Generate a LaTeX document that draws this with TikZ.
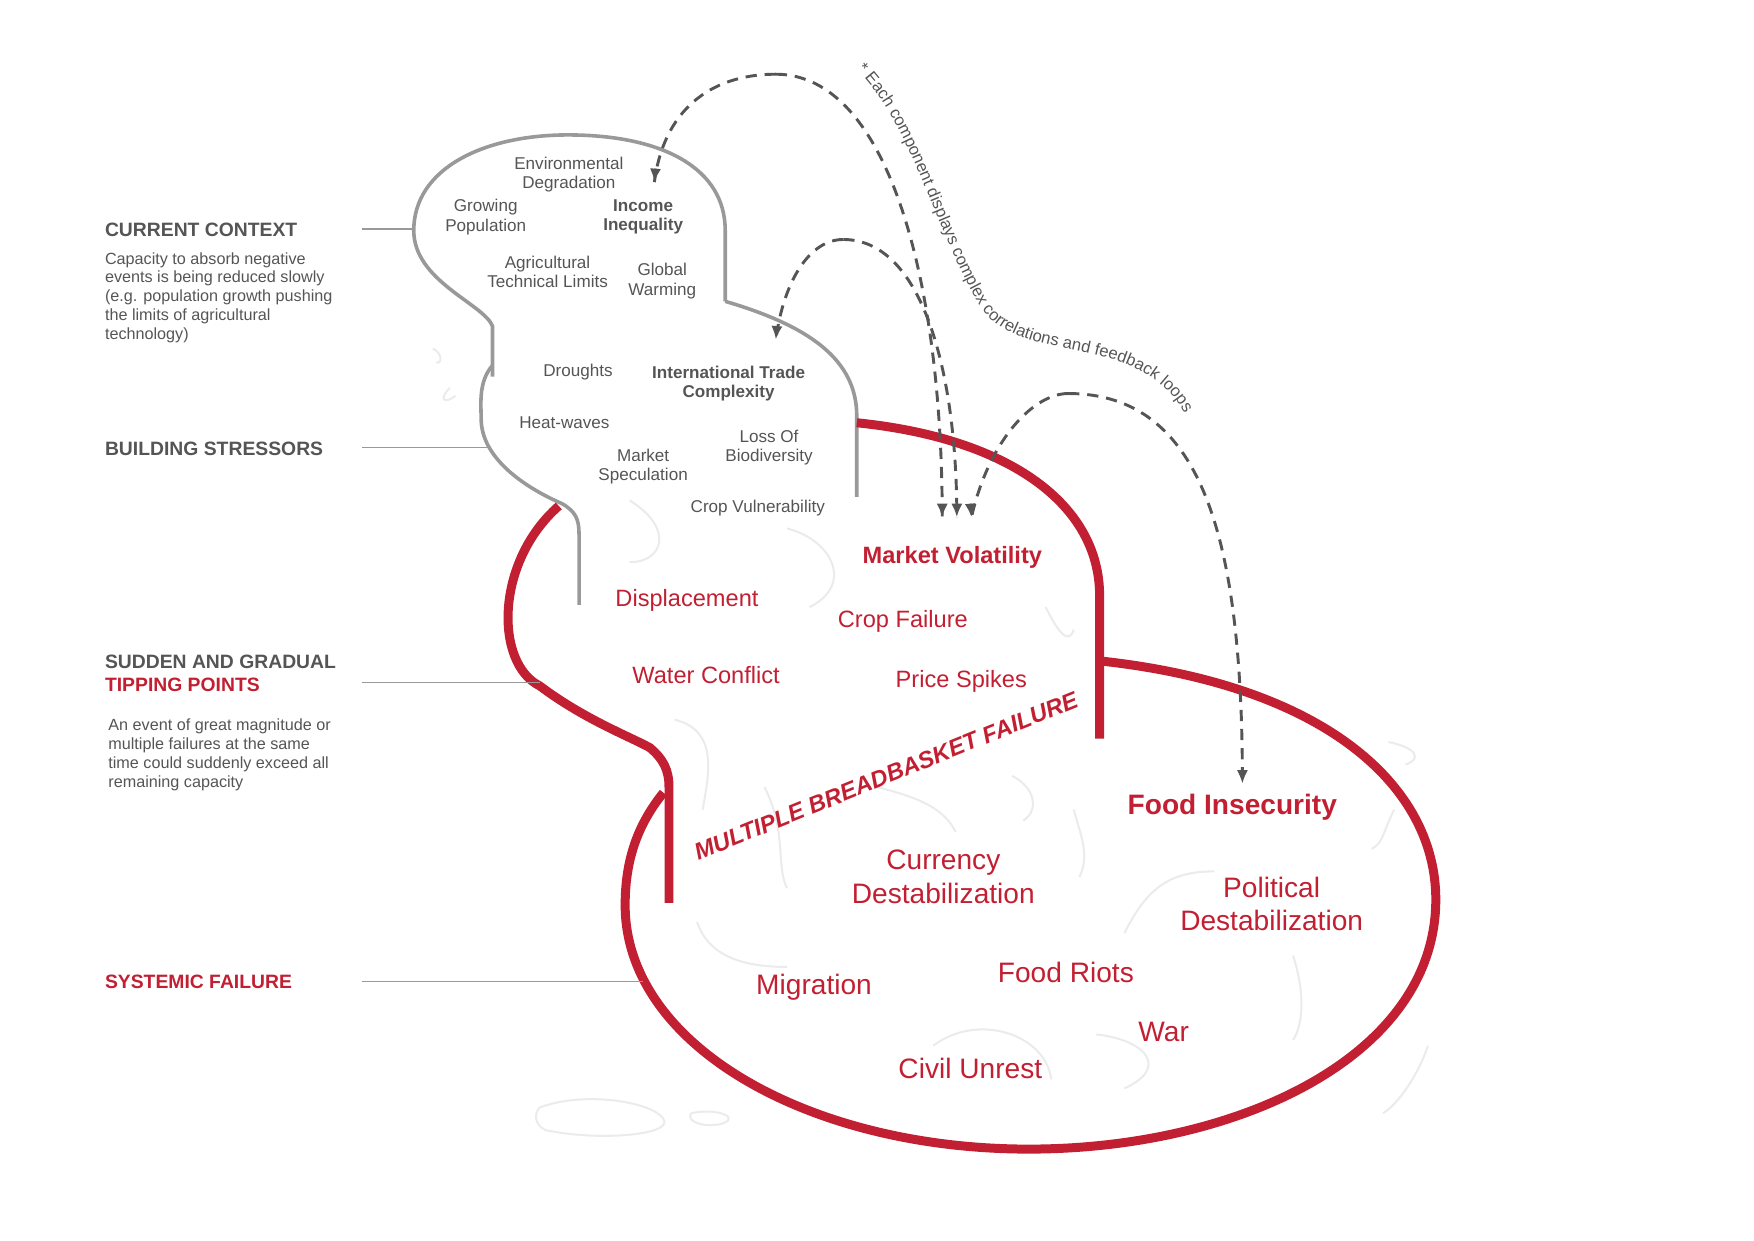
\documentclass[tikz,border=0pt]{standalone}
\usepackage{fontspec}
\setmainfont{Liberation Sans}
\usetikzlibrary{arrows.meta,decorations.text}
\definecolor{fr}{HTML}{C22032}
\definecolor{tg}{HTML}{555555}
\definecolor{lg}{HTML}{999999}
\definecolor{sk}{HTML}{EBEBEB}
\begin{document}
\begin{tikzpicture}[x=0.5pt,y=-0.5pt,
  gl/.style={lg,line width=1.6pt},
  rl/.style={fr,line width=4pt},
  ll/.style={lg,line width=0.8pt},
  sq/.style={sk,line width=0.9pt},
  dsh/.style={tg,line width=1.3pt,dash pattern=on 5pt off 3.5pt},
  tip/.style={-{Latex[length=6pt,width=5pt]}},
  st/.style={tg,font=\fontsize{7.6}{8.6}\selectfont,align=center},
  sb/.style={st,font=\fontsize{7.6}{8.6}\selectfont\bfseries},
  rt/.style={fr,font=\fontsize{10.5}{12}\selectfont,align=center},
  rb/.style={fr,font=\fontsize{10.5}{12}\selectfont\bfseries},
  big/.style={fr,font=\fontsize{12.5}{15}\selectfont,align=center},
  hd/.style={tg,font=\fontsize{8.6}{10}\selectfont\bfseries,anchor=west,align=left,inner sep=0pt},
  ds/.style={tg,font=\fontsize{7.2}{8.4}\selectfont,anchor=north west,align=left,inner sep=0pt}]
\useasboundingbox (0,0) rectangle (1560,1103);
% sketch squiggles
\draw[sq] (385,310) .. controls (395,315) and (392,325) .. (388,322);
\draw[sq] (400,345) .. controls (390,355) and (395,360) .. (405,352);
\draw[sq] (560,445) .. controls (600,470) and (590,500) .. (560,500);
\draw[sq] (700,470) .. controls (740,480) and (760,520) .. (720,540);
\draw[sq] (930,540) .. controls (940,560) and (950,575) .. (955,560);
\draw[sq] (600,640) .. controls (640,650) and (630,690) .. (625,720);
\draw[sq] (680,700) .. controls (700,740) and (690,770) .. (700,790);
\draw[sq] (620,820) .. controls (630,850) and (660,860) .. (700,860);
\draw[sq] (830,930) .. controls (870,900) and (930,920) .. (935,960);
\draw[sq] (975,920) .. controls (1020,925) and (1040,950) .. (1000,968);
\draw[sq] (1000,830) .. controls (1020,790) and (1040,775) .. (1080,775);
\draw[sq] (1150,850) .. controls (1160,880) and (1160,910) .. (1150,925);
\draw[sq] (1240,720) .. controls (1230,740) and (1230,750) .. (1220,755);
\draw[sq] (1235,660) .. controls (1260,665) and (1265,675) .. (1250,680);
\draw[sq] (1270,930) .. controls (1260,960) and (1240,985) .. (1230,990);
\draw[sq] (480,985) .. controls (520,970) and (580,980) .. (590,995) .. controls (600,1010) and (530,1015) .. (485,1005) .. controls (475,1000) and (475,990) .. (480,985);
\draw[sq] (615,990) .. controls (640,985) and (660,995) .. (640,1000) .. controls (620,1003) and (610,995) .. (615,990);
\draw[sq] (780,700) .. controls (820,710) and (840,720) .. (850,740);
\draw[sq] (900,690) .. controls (920,700) and (925,720) .. (910,730);
\draw[sq] (955,720) .. controls (960,740) and (970,760) .. (960,780);
% top grey blob
\draw[gl] (438,335) -- (438,290) .. controls (430,270) and (368,250) .. (368,205) .. controls (368,150) and (430,120) .. (505,120) .. controls (590,120) and (645,150) .. (645,205) -- (645,268);
% second grey blob
\draw[gl] (645,268) .. controls (720,290) and (762,320) .. (762,370) -- (762,442);
\draw[gl] (438,325) .. controls (425,340) and (428,360) .. (428,375) .. controls (430,410) and (470,435) .. (500,448) .. controls (512,455) and (515,462) .. (515,475) -- (515,538);
% red blob
\draw[rl] (497,450) .. controls (440,500) and (440,590) .. (480,610) .. controls (520,640) and (560,655) .. (578,665) .. controls (590,675) and (595,685) .. (595,700) -- (595,803);
\draw[rl] (762,376) .. controls (900,390) and (978,450) .. (978,530) -- (978,657);
% red ellipse
\draw[rl] (980,588) .. controls (1180,610) and (1277,700) .. (1277,800) .. controls (1277,940) and (1100,1022) .. (915,1022) .. controls (720,1022) and (556,930) .. (556,805) .. controls (556,760) and (570,730) .. (590,705);
% left labels and leaders
\node[hd] (cc) at (93,204) {CURRENT CONTEXT};
\node[ds] (ccd) at (93,224) {Capacity to absorb negative\\events is being reduced slowly\\(e.g. population growth pushing\\the limits of agricultural\\technology)};
\node[hd] (bs) at (93,399) {BUILDING STRESSORS};
\node[hd] (tp) at (93,599) {SUDDEN AND GRADUAL\\\textcolor{fr}{TIPPING POINTS}};
\node[ds] (tpd) at (96,639) {An event of great magnitude or\\multiple failures at the same\\time could suddenly exceed all\\remaining capacity};
\node[hd,fr] (sf) at (93,873) {SYSTEMIC FAILURE};
\coordinate (c1) at (368,204); \coordinate (c2) at (434,398);
\coordinate (c3) at (480,607); \coordinate (c4) at (572,873);
\draw[ll] (322,204) -- (c1);
\draw[ll] (322,398) -- (c2);
\draw[ll] (322,607) -- (c3);
\draw[ll] (322,873) -- (c4);
% grey texts
\node[st] (ed) at (506,155) {Environmental\\Degradation};
\node[st] (gp) at (432,193) {Growing\\Population};
\node[sb] (ii) at (572,193) {Income\\Inequality};
\node[st] (at) at (487,242) {Agricultural\\Technical Limits};
\node[st] (gw) at (589,250) {Global\\Warming};
\node[st] (dr) at (514,331) {Droughts};
\node[sb] (it) at (648,341) {International Trade\\Complexity};
\node[st] (hw) at (502,376) {Heat-waves};
\node[st] (lb) at (684,398) {Loss Of\\Biodiversity};
\node[st] (ms) at (572,415) {Market\\Speculation};
\node[st] (cv) at (674,452) {Crop Vulnerability};
% red texts
\node[rb] (mv) at (847,496) {Market Volatility};
\node[rt] (dp) at (611,534) {Displacement};
\node[rt] (cf) at (803,553) {Crop Failure};
\node[rt] (wc) at (628,600) {Water Conflict};
\node[rt] (ps) at (855,606) {Price Spikes};
\node[fr,font=\fontsize{10.5}{12}\selectfont\bfseries\itshape,rotate=22] (mb) at (788,690) {MULTIPLE BREADBASKET FAILURE};
\node[big,font=\fontsize{12.5}{15}\selectfont\bfseries] (fi) at (1096,718) {Food Insecurity};
\node[big] (cd) at (839,780) {Currency\\Destabilization};
\node[big] (pd) at (1131,804) {Political\\Destabilization};
\node[big] (fr1) at (948,865) {Food Riots};
\node[big] (mg) at (724,878) {Migration};
\node[big] (wr) at (1035,918) {War};
\node[big] (cu) at (863,950) {Civil Unrest};
% dashed arrows
\coordinate (a1) at (582,162); \coordinate (a2) at (838,460);
\coordinate (a3) at (690,302); \coordinate (a4) at (851,460);
\coordinate (a5) at (864,460); \coordinate (a6) at (1105,697);
\draw[dsh] (690,66) .. controls (630,66) and (590,100) .. (a1);
\draw[dsh] (690,66) .. controls (790,66) and (838,250) .. (a2);
\draw[dsh] (750,213) .. controls (720,213) and (697,250) .. (a3);
\draw[dsh] (750,213) .. controls (820,213) and (851,330) .. (a4);
\draw[dsh] (950,350) .. controls (920,350) and (880,390) .. (a5);
\draw[dsh] (950,350) .. controls (1070,350) and (1105,480) .. (a6);
\foreach \p/\q in {a1/{583,150},a2/{838,448},a3/{691,290},a4/{851,448},a5/{863,448},a6/{1105,685}}
  \draw[tg,line width=1.3pt,tip] (\q) -- (\p);
\path[decorate,decoration={text along path,text align=left,text={|\fontsize{7.4}{8}\selectfont\color{tg}|* Each component displays complex correlations and feedback loops}}]
  (762,62) .. controls (810,110) and (830,200) .. (870,270) .. controls (900,320) and (980,300) .. (1030,340) .. controls (1055,360) and (1062,385) .. (1068,408);
\end{tikzpicture}
\end{document}
